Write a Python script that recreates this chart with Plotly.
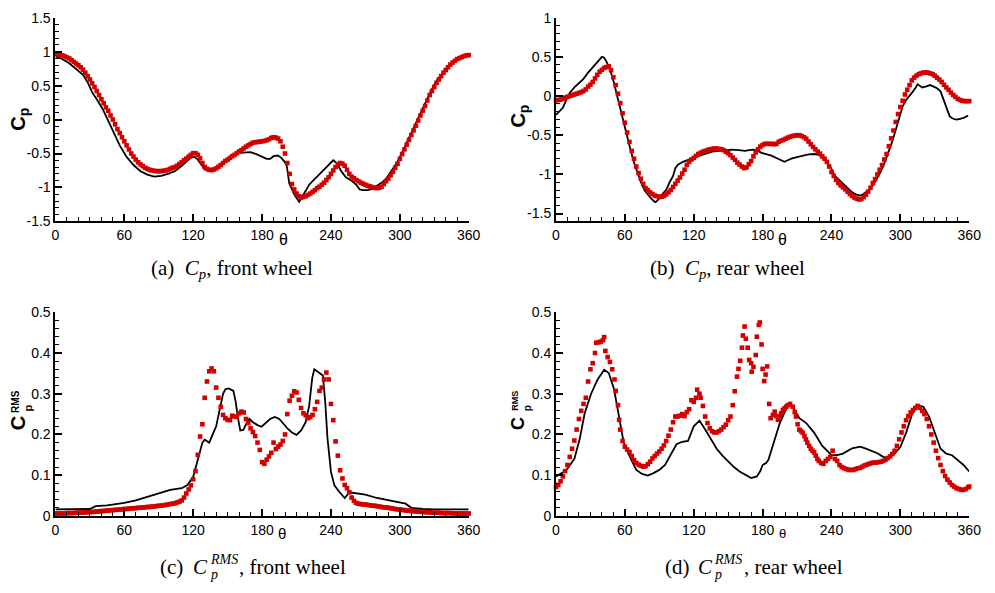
import plotly.graph_objects as go

# ---------------- data ----------------
# measured surface-pressure data, sampled every 2 degrees
theta_exp = list(range(0, 361, 2))

cp_front_exp = [
    0.965, 0.965, 0.955, 0.945, 0.93, 0.915, 0.90, 0.875, 0.85, 0.825,
    0.80, 0.77, 0.735, 0.69, 0.64, 0.59, 0.535, 0.48, 0.42, 0.36,
    0.30, 0.24, 0.18, 0.13, 0.06, 0.0, -0.07, -0.14, -0.20, -0.26,
    -0.32, -0.38, -0.44, -0.50, -0.545, -0.59, -0.63, -0.66, -0.685, -0.71,
    -0.725, -0.74, -0.75, -0.755, -0.76, -0.76, -0.76, -0.755, -0.75, -0.74,
    -0.725, -0.71, -0.70, -0.68, -0.655, -0.63, -0.60, -0.575, -0.545, -0.52,
    -0.495, -0.495, -0.52, -0.57, -0.64, -0.70, -0.725, -0.74, -0.745, -0.735,
    -0.72, -0.695, -0.67, -0.64, -0.61, -0.59, -0.565, -0.54, -0.52, -0.495,
    -0.47, -0.45, -0.425, -0.40, -0.38, -0.36, -0.34, -0.335, -0.33, -0.325,
    -0.32, -0.315, -0.305, -0.29, -0.27, -0.26, -0.265, -0.28, -0.32, -0.40,
    -0.50, -0.64, -0.80, -0.95, -1.03, -1.09, -1.13, -1.15, -1.14, -1.13,
    -1.11, -1.09, -1.065, -1.04, -1.01, -0.99, -0.96, -0.93, -0.89, -0.85,
    -0.80, -0.75, -0.70, -0.66, -0.64, -0.65, -0.68, -0.74, -0.80, -0.84,
    -0.865, -0.89, -0.91, -0.93, -0.945, -0.96, -0.975, -0.985, -0.995, -1.005,
    -1.01, -1.005, -0.99, -0.95, -0.91, -0.87, -0.82, -0.77, -0.71, -0.65,
    -0.58, -0.51, -0.44, -0.37, -0.30, -0.23, -0.16, -0.09, -0.015, 0.06,
    0.13, 0.20, 0.28, 0.36, 0.42, 0.48, 0.54, 0.59, 0.64, 0.69,
    0.73, 0.77, 0.81, 0.84, 0.865, 0.89, 0.905, 0.92, 0.935, 0.945,
    0.95,
]

cp_rear_exp = [
    -0.055, -0.05, -0.045, -0.035, -0.02, -0.01, 0.0, 0.01, 0.02, 0.03,
    0.04, 0.05, 0.065, 0.085, 0.12, 0.145, 0.18, 0.225, 0.27, 0.31,
    0.335, 0.36, 0.37, 0.38, 0.33, 0.24, 0.14, 0.03, -0.09, -0.22,
    -0.34, -0.465, -0.585, -0.70, -0.80, -0.90, -0.983, -1.055, -1.12, -1.175,
    -1.20, -1.23, -1.25, -1.27, -1.28, -1.29, -1.285, -1.275, -1.255, -1.23,
    -1.20, -1.16, -1.12, -1.08, -1.04, -0.99, -0.94, -0.88, -0.84, -0.81,
    -0.79, -0.765, -0.74, -0.725, -0.71, -0.70, -0.69, -0.68, -0.675, -0.67,
    -0.67, -0.675, -0.68, -0.69, -0.71, -0.73, -0.755, -0.785, -0.815, -0.85,
    -0.875, -0.90, -0.92, -0.91, -0.87, -0.83, -0.77, -0.72, -0.68, -0.645,
    -0.625, -0.61, -0.61, -0.61, -0.61, -0.615, -0.61, -0.585, -0.57, -0.56,
    -0.545, -0.53, -0.52, -0.51, -0.505, -0.50, -0.50, -0.51, -0.525, -0.545,
    -0.58, -0.615, -0.65, -0.68, -0.71, -0.735, -0.77, -0.80, -0.84, -0.90,
    -0.97, -1.02, -1.07, -1.11, -1.14, -1.165, -1.19, -1.22, -1.25, -1.275,
    -1.295, -1.31, -1.32, -1.315, -1.29, -1.26, -1.22, -1.17, -1.11, -1.06,
    -1.00, -0.94, -0.88, -0.81, -0.74, -0.64, -0.54, -0.44, -0.33, -0.23,
    -0.14, -0.06, 0.02, 0.08, 0.14, 0.20, 0.235, 0.26, 0.28, 0.29,
    0.30, 0.30, 0.30, 0.29, 0.28, 0.26, 0.235, 0.21, 0.18, 0.145,
    0.11, 0.08, 0.045, 0.015, -0.01, -0.035, -0.05, -0.06, -0.065, -0.065,
    -0.065,
]

rms_front_exp = [
    0.006, 0.006, 0.006, 0.006, 0.006, 0.007, 0.007, 0.007, 0.007, 0.008,
    0.008, 0.008, 0.008, 0.009, 0.009, 0.009, 0.010, 0.010, 0.011, 0.011,
    0.012, 0.012, 0.013, 0.013, 0.014, 0.014, 0.015, 0.015, 0.016, 0.016,
    0.017, 0.017, 0.018, 0.018, 0.019, 0.019, 0.020, 0.020, 0.021, 0.021,
    0.022, 0.022, 0.023, 0.023, 0.024, 0.025, 0.025, 0.026, 0.027, 0.028,
    0.029, 0.030, 0.031, 0.033, 0.035, 0.038, 0.045, 0.055, 0.065, 0.075,
    0.09, 0.11, 0.15, 0.195, 0.225, 0.29, 0.33, 0.355, 0.362, 0.355,
    0.315, 0.29, 0.268, 0.248, 0.24, 0.236, 0.235, 0.246, 0.244, 0.243,
    0.252, 0.256, 0.254, 0.238, 0.228, 0.215, 0.206, 0.196, 0.18, 0.162,
    0.132, 0.128, 0.138, 0.146, 0.155, 0.18, 0.164, 0.17, 0.175, 0.184,
    0.20, 0.25, 0.283, 0.295, 0.306, 0.303, 0.285, 0.265, 0.252, 0.247,
    0.24, 0.243, 0.248, 0.262, 0.28, 0.307, 0.315, 0.335, 0.352, 0.335,
    0.275, 0.235, 0.183, 0.148, 0.112, 0.092, 0.076, 0.068, 0.058, 0.045,
    0.037, 0.032, 0.030, 0.029, 0.028, 0.028, 0.027, 0.026, 0.025, 0.025,
    0.024, 0.023, 0.022, 0.021, 0.021, 0.020, 0.019, 0.018, 0.017, 0.016,
    0.016, 0.015, 0.014, 0.013, 0.013, 0.012, 0.012, 0.011, 0.011, 0.010,
    0.010, 0.009, 0.009, 0.009, 0.008, 0.008, 0.008, 0.008, 0.007, 0.007,
    0.007, 0.007, 0.007, 0.006, 0.006, 0.006, 0.006, 0.006, 0.006, 0.006,
    0.006,
]

# rear-wheel RMS is scattered between 150 and 230 deg, so it keeps its own angles
rms_rear_exp_theta = [
    0, 2, 4, 6, 8, 10, 12, 14, 16, 18, 20, 22, 24, 26, 28, 30, 32, 34, 35, 37,
    39, 41, 42, 43, 45, 47, 49, 51, 52, 54, 55, 56, 58, 60, 62, 64, 66, 68, 70, 72,
    74, 76, 78, 80, 82, 84, 86, 88, 90, 92, 94, 96, 98, 100, 102, 104, 106, 108, 110, 112,
    114, 116, 118, 120, 122, 123, 125, 126, 128, 130, 132, 134, 136, 138, 140, 142, 144, 146, 148, 150,
    152, 154, 155.7, 157.7, 159, 160.5, 162, 162.8, 164.3, 165.4, 167, 168.3, 170, 170.5, 172, 174, 175, 176.7, 177.6, 179.1,
    180, 181.4, 182.6, 184, 185.7, 187, 189, 190.5, 192, 193.4, 195, 196.3, 197.7, 199, 200.6, 202, 204, 206.3, 208, 209.1,
    210.5, 212, 213.5, 215, 216.5, 217.7, 219, 220.6, 222, 223.5, 224.9, 226.3, 227.7, 229, 231, 233, 235, 237, 239, 241,
    243, 245, 247, 249, 251, 253, 255, 257, 259, 261, 263, 265, 267, 269, 271, 273, 275, 277, 279, 281,
    283, 285, 287, 289, 291, 293, 295, 297, 299, 301, 303, 305, 307, 309, 311, 313, 315, 317, 319, 321,
    323, 325, 327, 329, 331, 333, 335, 337, 339, 341, 343, 345, 347, 349, 351, 353, 355, 357, 359, 360,
]
rms_rear_exp = [
    0.071, 0.076, 0.085, 0.097, 0.11, 0.125, 0.145, 0.165, 0.185, 0.212, 0.238, 0.258, 0.275, 0.29, 0.33, 0.36, 0.375, 0.40, 0.425, 0.426,
    0.428, 0.432, 0.439, 0.405, 0.39, 0.378, 0.36, 0.335, 0.307, 0.272, 0.236, 0.212, 0.184, 0.17, 0.163, 0.157, 0.147, 0.137, 0.13, 0.126,
    0.123, 0.121, 0.122, 0.127, 0.133, 0.141, 0.147, 0.153, 0.158, 0.165, 0.173, 0.184, 0.197, 0.212, 0.23, 0.244, 0.244, 0.246, 0.25, 0.245,
    0.255, 0.262, 0.284, 0.28, 0.29, 0.31, 0.30, 0.29, 0.27, 0.244, 0.228, 0.215, 0.208, 0.205, 0.205, 0.208, 0.212, 0.218, 0.224, 0.235,
    0.244, 0.272, 0.306, 0.342, 0.361, 0.381, 0.413, 0.443, 0.465, 0.435, 0.413, 0.383, 0.375, 0.354, 0.366, 0.395, 0.44, 0.469, 0.475, 0.421,
    0.361, 0.331, 0.347, 0.367, 0.275, 0.24, 0.248, 0.256, 0.245, 0.236, 0.245, 0.252, 0.26, 0.264, 0.268, 0.272, 0.275, 0.268, 0.255, 0.244,
    0.225, 0.212, 0.208, 0.204, 0.196, 0.188, 0.18, 0.172, 0.165, 0.16, 0.156, 0.148, 0.14, 0.135, 0.13, 0.128, 0.135, 0.14, 0.145, 0.16,
    0.14, 0.135, 0.125, 0.12, 0.117, 0.115, 0.113, 0.113, 0.113, 0.115, 0.117, 0.118, 0.121, 0.124, 0.126, 0.128, 0.13, 0.131, 0.131, 0.132,
    0.133, 0.135, 0.138, 0.142, 0.146, 0.152, 0.16, 0.172, 0.188, 0.205, 0.22, 0.235, 0.245, 0.254, 0.26, 0.265, 0.27, 0.266, 0.258, 0.25,
    0.238, 0.22, 0.20, 0.18, 0.16, 0.142, 0.125, 0.11, 0.098, 0.089, 0.082, 0.076, 0.072, 0.068, 0.066, 0.064, 0.064, 0.066, 0.07, 0.072,
]

# computed (simulation) curves
cp_front_sim_theta = [
    0, 5, 12, 18, 24, 28, 32, 36, 41, 46, 51, 56, 62, 68, 74, 80, 86, 92, 98, 104,
    110, 115, 118, 121, 124, 127, 130, 133, 137, 140, 145, 150, 155, 160, 165, 170, 175, 180, 184, 187,
    190, 193.7, 196.5, 199.5, 201.5, 203.7, 206, 208, 212.3, 215, 218, 221, 225, 229, 235, 239, 242, 245, 249, 253,
    258, 262, 265, 268, 272, 276, 280, 285, 289, 294, 298, 303, 309, 315, 321, 327, 332, 338, 344, 350,
    355, 360,
]
cp_front_sim = [
    0.93, 0.90, 0.83, 0.75, 0.66, 0.55, 0.40, 0.30, 0.16, -0.02, -0.20, -0.38, -0.55, -0.67, -0.76, -0.81, -0.84, -0.83, -0.80, -0.76,
    -0.68, -0.60, -0.56, -0.55, -0.59, -0.66, -0.73, -0.76, -0.76, -0.72, -0.65, -0.58, -0.52, -0.49, -0.48, -0.48, -0.51, -0.55, -0.58, -0.58,
    -0.54, -0.53, -0.56, -0.62, -0.68, -0.94, -1.03, -1.10, -1.21, -1.14, -1.05, -0.96, -0.89, -0.82, -0.72, -0.66, -0.60, -0.64, -0.76, -0.85,
    -0.90, -0.96, -1.03, -1.04, -1.04, -1.02, -0.98, -0.92, -0.85, -0.73, -0.62, -0.45, -0.23, 0.0, 0.21, 0.42, 0.57, 0.70, 0.81, 0.88,
    0.92, 0.94,
]

cp_rear_sim_theta = [
    0, 3, 6, 9, 12, 16, 20, 24, 28, 32, 36, 40, 42, 44, 47, 50, 53, 56, 59, 62,
    65, 68, 71, 74, 77, 80, 83, 86.3, 88, 90, 93, 96.3, 99, 102, 104, 106, 110.6, 119, 125, 130.6,
    136, 142, 148, 153.4, 159, 164.9, 168, 172, 176, 179, 183, 187.7, 192, 196, 199, 202, 205, 210, 215, 220,
    225, 229, 233, 237, 240, 243, 246, 250, 254, 258, 262, 265, 268, 271, 274, 277, 280, 283, 286, 289,
    292, 295, 299, 302, 305, 308, 311, 313, 315, 317, 319, 322, 326, 329, 332, 335, 337, 339, 341, 343,
    346, 349, 352, 355, 359,
]
cp_rear_sim = [
    -0.24, -0.20, -0.15, -0.05, 0.04, 0.11, 0.16, 0.22, 0.30, 0.37, 0.44, 0.50, 0.49, 0.44, 0.34, 0.20, 0.02, -0.16, -0.36, -0.52,
    -0.69, -0.85, -0.99, -1.10, -1.20, -1.26, -1.31, -1.354, -1.34, -1.30, -1.25, -1.19, -1.10, -1.02, -0.92, -0.88, -0.84, -0.79, -0.76, -0.735,
    -0.71, -0.70, -0.69, -0.685, -0.69, -0.70, -0.69, -0.685, -0.70, -0.725, -0.74, -0.76, -0.79, -0.82, -0.84, -0.82, -0.80, -0.78, -0.76, -0.745,
    -0.74, -0.75, -0.80, -0.86, -0.93, -1.02, -1.06, -1.12, -1.18, -1.23, -1.26, -1.27, -1.25, -1.21, -1.18, -1.12, -1.04, -0.96, -0.86, -0.75,
    -0.62, -0.48, -0.26, -0.13, -0.05, 0.0, 0.06, 0.10, 0.15, 0.13, 0.11, 0.12, 0.14, 0.12, 0.10, 0.06, -0.02, -0.12, -0.20, -0.26,
    -0.29, -0.30, -0.29, -0.28, -0.25,
]

rms_front_sim_theta = [
    0, 10, 20, 30, 35, 45, 60, 70, 80, 90, 100, 110, 115, 120, 125, 128, 130, 134, 137, 140,
    143, 146, 148, 151, 155, 157, 159, 161, 163.7, 166, 169, 172, 176, 179.5, 183, 187, 191, 195, 199, 202,
    206, 210, 214, 218, 221, 223.7, 225.5, 229, 233, 235, 237, 240, 243, 247, 252, 256, 262, 270, 280, 290,
    300, 305, 310, 320, 330, 360,
]
rms_front_sim = [
    0.016, 0.016, 0.016, 0.017, 0.024, 0.026, 0.032, 0.038, 0.047, 0.056, 0.064, 0.068, 0.076, 0.096, 0.148, 0.18, 0.187, 0.18, 0.20, 0.22,
    0.26, 0.30, 0.311, 0.313, 0.307, 0.28, 0.24, 0.21, 0.211, 0.225, 0.238, 0.23, 0.223, 0.219, 0.228, 0.238, 0.243, 0.238, 0.225, 0.215,
    0.205, 0.199, 0.21, 0.23, 0.27, 0.339, 0.36, 0.352, 0.345, 0.28, 0.19, 0.108, 0.075, 0.06, 0.044, 0.058, 0.056, 0.052, 0.044, 0.038,
    0.032, 0.03, 0.02, 0.017, 0.016, 0.016,
]

rms_rear_sim_theta = [
    0, 5, 10, 16, 20.6, 25, 30.6, 36.3, 42, 46, 50.6, 55, 59, 65, 70, 75, 80, 85, 90, 95,
    100, 105, 110, 115, 120, 125, 130, 135, 140, 145, 150, 155, 160, 165, 170, 175, 178, 180, 183, 185,
    190, 195, 200, 203, 207, 212, 218, 225, 232, 240, 245, 250, 258, 265, 270, 280, 285, 290, 295, 300,
    305, 310, 315, 320, 325, 330, 335, 340, 345, 350, 355, 360,
]
rms_rear_sim = [
    0.097, 0.105, 0.116, 0.14, 0.188, 0.252, 0.30, 0.335, 0.359, 0.351, 0.311, 0.244, 0.18, 0.141, 0.113, 0.103, 0.099, 0.105, 0.113, 0.125,
    0.149, 0.176, 0.182, 0.184, 0.22, 0.234, 0.212, 0.19, 0.165, 0.148, 0.133, 0.12, 0.109, 0.10, 0.093, 0.097, 0.11, 0.125, 0.13, 0.137,
    0.18, 0.228, 0.26, 0.274, 0.264, 0.24, 0.228, 0.204, 0.172, 0.149, 0.149, 0.153, 0.166, 0.17, 0.165, 0.154, 0.145, 0.142, 0.153, 0.169,
    0.204, 0.248, 0.272, 0.268, 0.244, 0.204, 0.165, 0.153, 0.149, 0.137, 0.125, 0.109,
]

# tick labels
theta_ticks = [0, 60, 120, 180, 240, 300, 360]
theta_ticktext = ["0", "60", "120", "180", "240", "300", "360"]
cp_front_ticks = [-1.5, -1, -0.5, 0, 0.5, 1, 1.5]
cp_front_ticktext = ["-1.5", "-1", "-0.5", "0", "0.5", "1", "1.5"]
cp_rear_ticks = [-1.5, -1, -0.5, 0, 0.5, 1]
cp_rear_ticktext = ["-1.5", "-1", "-0.5", "0", "0.5", "1"]
rms_ticks = [0, 0.1, 0.2, 0.3, 0.4, 0.5]
rms_ticktext = ["0", "0.1", "0.2", "0.3", "0.4", "0.5"]

# ---------------- figure ----------------
W, H = 995, 593
SANS = "Arial, Liberation Sans, Helvetica, sans-serif"
SERIF = "Times New Roman, Liberation Serif, Times, serif"
RED = "#d40000"


def px_x(x):
    return x / W


def px_y(y):
    return 1 - y / H


fig = go.Figure()

panels = [
    # (axis suffix, sim theta, sim values, exp theta, exp values)
    ("", cp_front_sim_theta, cp_front_sim, theta_exp, cp_front_exp),
    ("2", cp_rear_sim_theta, cp_rear_sim, theta_exp, cp_rear_exp),
    ("3", rms_front_sim_theta, rms_front_sim, theta_exp, rms_front_exp),
    ("4", rms_rear_sim_theta, rms_rear_sim, rms_rear_exp_theta, rms_rear_exp),
]

for suf, ts, vs, te, ve in panels:
    fig.add_trace(go.Scatter(
        x=ts, y=vs, mode="lines", xaxis="x" + suf, yaxis="y" + suf,
        line=dict(color="black", width=1.8), showlegend=False, hoverinfo="skip"))
    fig.add_trace(go.Scatter(
        x=te, y=ve, mode="markers", xaxis="x" + suf, yaxis="y" + suf,
        marker=dict(symbol="square", size=4.6, color=RED, line=dict(width=0)),
        cliponaxis=False, showlegend=False, hoverinfo="skip"))


def x_axis(domain, anchor):
    return dict(
        domain=domain, anchor=anchor, range=[0, 360],
        tickmode="array", tickvals=theta_ticks, ticktext=theta_ticktext,
        ticks="inside", ticklen=7, tickwidth=2, tickcolor="black",
        minor=dict(tickmode="linear", tick0=0, dtick=10, ticks="inside",
                   ticklen=4, tickwidth=1.3, tickcolor="black", showgrid=False),
        showline=True, linewidth=2, linecolor="black",
        showgrid=False, zeroline=False,
        tickfont=dict(family=SANS, size=14, color="black"),
    )


def y_axis(domain, anchor, rng, tickvals, ticktext, minor_dtick):
    return dict(
        domain=domain, anchor=anchor, range=rng,
        tickmode="array", tickvals=tickvals, ticktext=ticktext,
        ticks="inside", ticklen=7, tickwidth=2, tickcolor="black",
        minor=dict(tickmode="linear", tick0=0, dtick=minor_dtick, ticks="inside",
                   ticklen=4, tickwidth=1.3, tickcolor="black", showgrid=False),
        showline=True, linewidth=2, linecolor="black",
        showgrid=False, zeroline=False,
        tickfont=dict(family=SANS, size=14, color="black"),
    )


xl = [px_x(52.3), px_x(472.3)]
xr = [px_x(561), px_x(981)]
yt = [px_y(219.3), px_y(10)]
yb = [px_y(522), px_y(312.7)]

annotations = []


def note(x, y, text, size, family=SANS, angle=0, xanchor="center", yanchor="middle"):
    annotations.append(dict(
        x=px_x(x), y=px_y(y), xref="paper", yref="paper", text=text,
        showarrow=False, textangle=angle, xanchor=xanchor, yanchor=yanchor,
        font=dict(family=family, size=size, color="black")))


# axis titles
note(284, 238, "θ", 16)
note(791, 238, "θ", 16)
note(283, 540, "θ", 15)
note(791, 540, "θ", 13)
note(16, 114, "<b>C<sub>p</sub></b>", 20, angle=-90)
note(523, 111, "<b>C<sub>p</sub></b>", 20, angle=-90)

# C_p^RMS with stacked sub/superscript
for x0, sc in ((0, 1.0), (508, 0.9)):
    note(x0 + 15, 427, "<b>C</b>", round(20 * sc), angle=-90)
    note(x0 + 24, 411, "<b>p</b>", round(11 * sc), angle=-90)
    note(x0 + 11, 404, "<b>RMS</b>", round(10 * sc), angle=-90)

# captions
note(147, 268, "(a)\u00a0\u00a0<i>C<sub>p</sub></i>, front wheel", 21, SERIF, xanchor="left")
note(655, 268, "(b)\u00a0\u00a0<i>C<sub>p</sub></i>, rear wheel", 21, SERIF, xanchor="left")

for x0, label, word in ((157, "(c)", "front wheel"), (670, "(d)", "rear wheel")):
    note(x0, 574, label, 21, SERIF, xanchor="left")
    note(x0 + 33, 574, "<i>C</i>", 21, SERIF, xanchor="left")
    note(x0 + 50, 567, "<i>RMS</i>", 14, SERIF, xanchor="left")
    note(x0 + 50, 582, "<i>p</i>", 14, SERIF, xanchor="left")
    note(x0 + 80, 574, ", " + word, 21, SERIF, xanchor="left")

fig.update_layout(
    width=W, height=H, autosize=False,
    margin=dict(l=0, r=0, t=0, b=0),
    paper_bgcolor="white", plot_bgcolor="white",
    showlegend=False,
    xaxis=x_axis(xl, "y"),
    yaxis=y_axis(yt, "x", [-1.5, 1.5], cp_front_ticks, cp_front_ticktext, 0.1),
    xaxis2=x_axis(xr, "y2"),
    yaxis2=y_axis(yt, "x2", [-1.6, 1.0], cp_rear_ticks, cp_rear_ticktext, 0.1),
    xaxis3=x_axis(xl, "y3"),
    yaxis3=y_axis(yb, "x3", [0, 0.5], rms_ticks, rms_ticktext, 0.02),
    xaxis4=x_axis(xr, "y4"),
    yaxis4=y_axis(yb, "x4", [0, 0.5], rms_ticks, rms_ticktext, 0.02),
    annotations=annotations,
)

fig.write_html("out.html")
